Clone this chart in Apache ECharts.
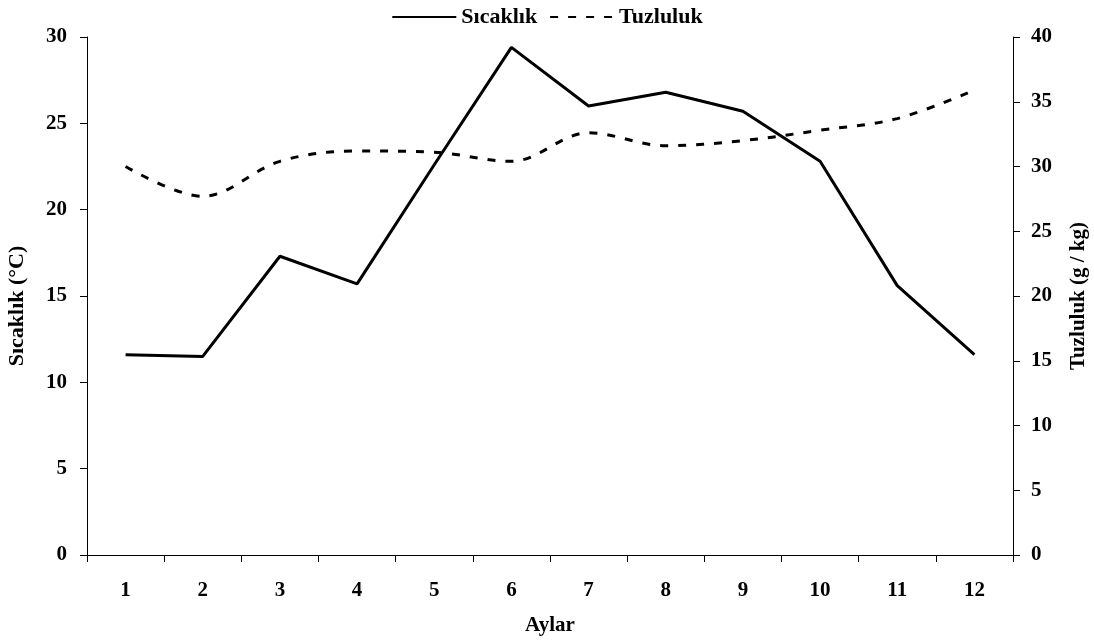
<!DOCTYPE html>
<html>
<head>
<meta charset="utf-8">
<script src="https://cdn.jsdelivr.net/npm/echarts@6/dist/echarts.min.js"></script>
<style>
  html, body { margin: 0; padding: 0; background: #fff; }
  #chart { width: 1094px; height: 643px; }
</style>
</head>
<body>
<div id="chart"></div>
<script>
// Monthly temperature and salinity
const months = ['1', '2', '3', '4', '5', '6', '7', '8', '9', '10', '11', '12'];
const temperature = [11.6, 11.5, 17.3, 15.7, 22.6, 29.4, 26.0, 26.8, 25.7, 22.8, 15.6, 11.6];
const salinity = [30.0, 27.7, 30.4, 31.2, 31.1, 30.4, 32.6, 31.6, 32.0, 32.8, 33.7, 35.9];
const tempTicks = { min: 0, max: 30, interval: 5 };
const salTicks = { min: 0, max: 40, interval: 5 };

const font = 'Liberation Serif, Times New Roman, serif';
const txt = { fontFamily: font, fontWeight: 'bold', fontSize: 21, color: '#000' };
const axisLine = { show: true, onZero: false, lineStyle: { color: '#000', width: 1 } };
const tick = { show: true, inside: false, length: 7, lineStyle: { color: '#000', width: 1 } };

const chart = echarts.init(document.getElementById('chart'), null, { renderer: 'canvas' });
chart.setOption({
  animation: false,
  backgroundColor: '#fff',
  legend: {
    top: 1,
    left: 'center',
    itemWidth: 64,
    itemHeight: 12,
    itemGap: 12,
    // plain line keys, no point markers
    itemStyle: { opacity: 0 },
    textStyle: Object.assign({}, txt, { fontSize: 22 }),
    data: ['Sıcaklık', 'Tuzluluk']
  },
  grid: { left: 87, right: 81, top: 37, bottom: 88, containLabel: false, outerBoundsMode: 'none' },
  xAxis: {
    type: 'category',
    data: months,
    boundaryGap: true,
    axisLine: axisLine,
    axisTick: Object.assign({}, tick, { alignWithLabel: false }),
    axisLabel: Object.assign({}, txt, { margin: 25 }),
    name: 'Aylar',
    nameLocation: 'middle',
    nameGap: 60,
    nameTextStyle: txt
  },
  yAxis: [
    {
      type: 'value',
      min: tempTicks.min, max: tempTicks.max, interval: tempTicks.interval,
      position: 'left',
      axisLine: axisLine,
      axisTick: tick,
      splitLine: { show: false },
      axisLabel: Object.assign({}, txt, { margin: 20 }),
      name: 'Sıcaklık (°C)',
      nameLocation: 'middle',
      nameRotate: 90,
      nameGap: 59,
      nameTextStyle: Object.assign({}, txt, { fontSize: 22, padding: [0, 20, 0, 0] })
    },
    {
      type: 'value',
      min: salTicks.min, max: salTicks.max, interval: salTicks.interval,
      position: 'right',
      axisLine: axisLine,
      axisTick: tick,
      splitLine: { show: false },
      axisLabel: Object.assign({}, txt, { margin: 18 }),
      name: 'Tuzluluk (g / kg)',
      nameLocation: 'middle',
      nameRotate: 90,
      nameGap: 55,
      nameTextStyle: Object.assign({}, txt, { fontSize: 21 })
    }
  ],
  series: [
    {
      name: 'Sıcaklık',
      type: 'line',
      yAxisIndex: 0,
      data: temperature,
      showSymbol: false,
      symbol: 'none',
      lineStyle: { color: '#000', width: 3, type: 'solid' },
      itemStyle: { color: '#000' }
    },
    {
      name: 'Tuzluluk',
      type: 'line',
      yAxisIndex: 1,
      data: salinity,
      smooth: 0.35,
      showSymbol: false,
      symbol: 'none',
      lineStyle: { color: '#000', width: 3, type: [8, 10] },
      itemStyle: { color: '#000' }
    }
  ]
});
</script>
</body>
</html>
